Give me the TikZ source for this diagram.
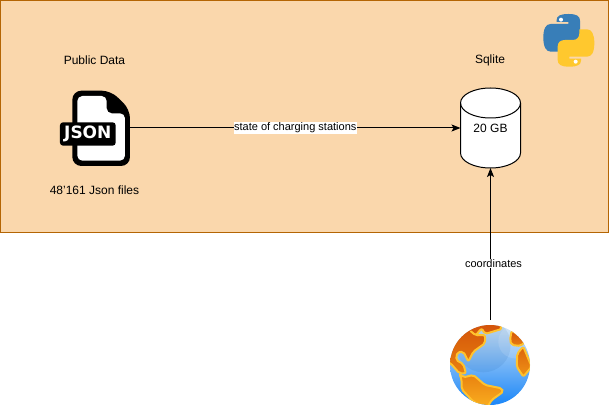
\documentclass[tikz,border=0pt]{standalone}
\usepackage{fontspec}
\setmainfont{Liberation Sans}
\newfontfamily\iconfont{DejaVu Sans}
\usetikzlibrary{arrows.meta,positioning}
\definecolor{regionfill}{HTML}{FAD7AC}
\definecolor{regionline}{HTML}{B46504}
\definecolor{coast}{HTML}{FFC22E}
\definecolor{pyblue}{HTML}{387EB8}
\definecolor{pyyellow}{HTML}{FFC82E}
\definecolor{landdark}{HTML}{D2500A}
\definecolor{landmid}{HTML}{E8800F}
\definecolor{landlight}{HTML}{FBB020}
\definecolor{seatop}{HTML}{CFE3F5}
\definecolor{seamid}{HTML}{7FB4EC}
\definecolor{seabot}{HTML}{1A86F8}
\tikzset{
  caption/.style={inner sep=0pt, font=\fontsize{12}{14}\selectfont},
  edgelabel/.style={fill=white, inner sep=0.5pt, font=\fontsize{11}{13}\selectfont},
  flow/.style={-{Stealth[length=9pt,width=7pt,inset=2pt]}, line width=1pt},
  holder/.style={inner sep=0pt, outer sep=0pt},
  land/.style={draw=coast, line width=2pt, line join=round, rounded corners=2pt},
}
\begin{document}
\begin{tikzpicture}[x=1pt,y=-1pt]
\useasboundingbox (0,0) rectangle (609,411);
\fill[regionfill, draw=regionline, line width=1pt] (0.5,0.5) rectangle (608.5,232.5);
\node[caption] (pub) at (94.5,60){Public Data};
\node[caption] (sql) at (490,60){Sqlite};
\node[caption] (cnt) at (94.5,190){48'161 Json files};
% json file icon
\begin{scope}[shift={(40,70)},x=0.3333pt,y=-0.3333pt]
\fill[black, rounded corners=9pt] (97,62) -- (212,62) -- (270,118) -- (270,288) -- (97,288) -- cycle;
\fill[white, rounded corners=5pt] (112,78) -- (200,78) -- (200,130) -- (255,130) -- (255,272) -- (112,272) -- cycle;
\fill[black, rounded corners=3pt] (60,157) rectangle (227,227);
\end{scope}
\node[holder, minimum width=58pt, minimum height=76pt] (json) at (101,128){};
\node[holder, text=white, font=\iconfont\bfseries\fontsize{17}{17}\selectfont] (jsontxt) at (87.8,134){JSON};
% database
\fill[white, draw=black, line width=1pt] (460.5,103) -- (460.5,153) arc[start angle=180,end angle=0,x radius=30,y radius=15] -- (520.5,103) arc[start angle=0,end angle=-180,x radius=30,y radius=15] -- cycle;
\draw[line width=1pt] (460.5,103) arc[start angle=180,end angle=0,x radius=30,y radius=15];
\node[holder, minimum width=60pt, minimum height=80pt, font=\fontsize{12}{14}\selectfont] (db) at (490.5,128){20 GB};
% python logo
\begin{scope}[shift={(530,0)},x=0.3333pt,y=-0.3333pt]
\fill[pyblue] (80,60) .. controls (80,48) and (90,42) .. (115,42) .. controls (140,42) and (150,48) .. (150,62) -- (150,102) .. controls (150,115) and (142,122) .. (128,122) -- (105,122) .. controls (92,122) and (85,130) .. (85,142) -- (85,155) -- (62,155) .. controls (48,155) and (40,140) .. (40,113) .. controls (40,85) and (48,72) .. (62,72) -- (115,72) -- (115,66) -- (80,66) -- cycle;
\fill[pyyellow] (153,182) .. controls (153,194) and (143,200) .. (118,200) .. controls (93,200) and (83,194) .. (83,180) -- (83,140) .. controls (83,127) and (91,120) .. (105,120) -- (128,120) .. controls (141,120) and (148,112) .. (148,100) -- (148,88) -- (171,88) .. controls (185,88) and (193,102) .. (193,129) .. controls (193,157) and (185,170) .. (171,170) -- (118,170) -- (118,176) -- (153,176) -- cycle;
\fill[white] (93,59) circle[radius=6];
\fill[white] (137,185) circle[radius=6];
\end{scope}
\node[holder, minimum size=56pt] (python) at (568.5,40.5){};
% globe
\begin{scope}[shift={(430,310)},x=0.3333pt,y=-0.3333pt]
\begin{scope}
\clip (180,165) circle[radius=120];
\shade[top color=seatop, middle color=seamid, bottom color=seabot] (50,45) rectangle (310,285);
\fill[seabot!60!black, opacity=0.10] (160,105) circle[radius=82];
\fill[white, opacity=0.12] (255,95) circle[radius=50];
\shade[land, top color=landdark, bottom color=landmid] (120,62) -- (137,76) -- (155,55) -- (165,72) -- (215,57) -- (205,30) -- (100,30) -- (40,100) -- (40,150) -- (62,160) -- (88,190) -- (108,190) -- (100,162) -- (78,150) -- (82,127) -- (100,125) -- (115,155) -- (130,125) -- (165,100) -- (165,75) -- (137,76) -- cycle;
\shade[land, top color=landmid, bottom color=landlight] (88,190) -- (100,202) -- (130,195) -- (165,225) -- (215,235) -- (220,245) -- (185,270) -- (170,295) -- (130,275) -- (95,238) -- (95,210) -- cycle;
\shade[land, top color=landdark, bottom color=landmid] (245,62) -- (290,90) -- (272,108) -- (245,105) -- (240,90) -- cycle;
\shade[land, top color=landdark!60!landmid, bottom color=landmid!60!landlight] (262,130) -- (280,110) -- (305,170) -- (280,200) -- (260,170) -- cycle;
\end{scope}
\end{scope}
\node[holder, minimum size=90pt, circle] (globe) at (490.5,365){};
\draw[flow] (json) -- node[edgelabel, midway] (lblstate) {state of charging stations} (db);
\draw[flow] (globe) -- node[edgelabel, pos=0.37, xshift=3pt] (lblcoord) {coordinates} (db);
\end{tikzpicture}
\end{document}
